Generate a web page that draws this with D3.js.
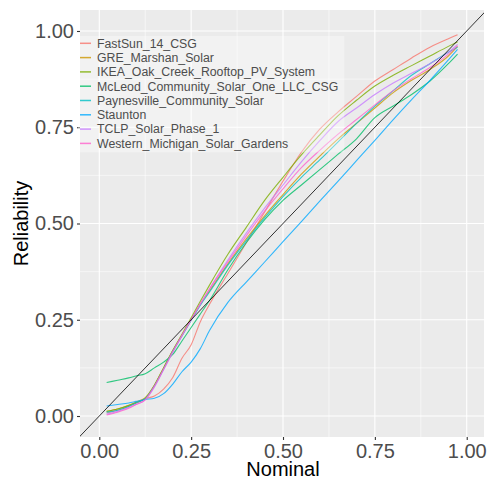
<!DOCTYPE html>
<html>
<head>
<meta charset="utf-8">
<script src="https://cdn.jsdelivr.net/npm/d3@7"></script>
<style>
  html, body { margin: 0; padding: 0; background: #ffffff; }
  svg { display: block; font-family: "Liberation Sans", Arial, sans-serif; }
</style>
</head>
<body>
<svg id="chart" width="488" height="481"></svg>
<script>
// Nominal levels shared by every series
const nominal = [0.02, 0.05, 0.08, 0.10, 0.125, 0.15, 0.175, 0.20, 0.225, 0.25, 0.275, 0.30,
                 0.35, 0.40, 0.45, 0.50, 0.55, 0.60, 0.65, 0.70, 0.75, 0.80, 0.85, 0.90, 0.95, 0.975];

const seriesNames = ["FastSun_14_CSG", "GRE_Marshan_Solar", "IKEA_Oak_Creek_Rooftop_PV_System",
  "McLeod_Community_Solar_One_LLC_CSG", "Paynesville_Community_Solar", "Staunton",
  "TCLP_Solar_Phase_1", "Western_Michigan_Solar_Gardens"];

const seriesColors = ["#F8766D", "#CD9600", "#7CAE00", "#00BE67", "#00BFC4", "#00A9FF", "#C77CFF", "#FF61CC"];

// Reliability (observed coverage) per series at each nominal level
const fastSun    = [0.008, 0.015, 0.025, 0.033, 0.045, 0.052, 0.070, 0.100, 0.150, 0.185, 0.245, 0.290,
                    0.370, 0.450, 0.530, 0.610, 0.685, 0.745, 0.790, 0.830, 0.870, 0.900, 0.930, 0.958, 0.980, 0.990];
const greMarshan = [0.012, 0.018, 0.028, 0.036, 0.048, 0.080, 0.125, 0.170, 0.210, 0.250, 0.290, 0.325,
                    0.395, 0.460, 0.520, 0.575, 0.628, 0.675, 0.720, 0.760, 0.800, 0.840, 0.872, 0.900, 0.935, 0.960];
const ikeaOak    = [0.012, 0.018, 0.027, 0.035, 0.045, 0.080, 0.125, 0.170, 0.212, 0.255, 0.298, 0.340,
                    0.420, 0.490, 0.560, 0.620, 0.678, 0.730, 0.780, 0.820, 0.857, 0.885, 0.910, 0.935, 0.960, 0.972];
const mcLeod     = [0.087, 0.093, 0.099, 0.104, 0.110, 0.125, 0.140, 0.160, 0.195, 0.230, 0.265, 0.300,
                    0.380, 0.450, 0.510, 0.560, 0.600, 0.640, 0.680, 0.720, 0.775, 0.805, 0.835, 0.870, 0.915, 0.940];
const paynes     = [0.010, 0.015, 0.025, 0.034, 0.045, 0.078, 0.122, 0.168, 0.208, 0.248, 0.288, 0.322,
                    0.392, 0.455, 0.515, 0.570, 0.620, 0.665, 0.712, 0.760, 0.805, 0.845, 0.885, 0.915, 0.945, 0.958];
const staunton   = [0.026, 0.030, 0.034, 0.038, 0.043, 0.046, 0.058, 0.083, 0.115, 0.140, 0.175, 0.222,
                    0.295, 0.348, 0.400, 0.453, 0.505, 0.558, 0.610, 0.663, 0.716, 0.770, 0.822, 0.872, 0.925, 0.952];
const tclp       = [0.005, 0.012, 0.022, 0.030, 0.042, 0.075, 0.120, 0.165, 0.208, 0.250, 0.290, 0.330,
                    0.405, 0.475, 0.540, 0.600, 0.660, 0.715, 0.765, 0.800, 0.835, 0.865, 0.890, 0.915, 0.945, 0.965];
const westernMi  = [0.003, 0.010, 0.020, 0.030, 0.042, 0.078, 0.122, 0.168, 0.210, 0.250, 0.292, 0.330,
                    0.400, 0.468, 0.532, 0.590, 0.645, 0.690, 0.732, 0.770, 0.808, 0.845, 0.876, 0.905, 0.940, 0.962];

const seriesValues = [fastSun, greMarshan, ikeaOak, mcLeod, paynes, staunton, tclp, westernMi];

const xMajor = [0, 0.25, 0.5, 0.75, 1];
const yMajor = [0, 0.25, 0.5, 0.75, 1];
const minorBreaks = [0.125, 0.375, 0.625, 0.875];
const tickLabels = ["0.00", "0.25", "0.50", "0.75", "1.00"];

const svg = d3.select("#chart");
const panel = { left: 80, right: 484, top: 10, bottom: 437 };

const x = d3.scaleLinear().domain([-0.0525, 1.047]).range([panel.left, panel.right]);
const y = d3.scaleLinear().domain([-0.0545, 1.0545]).range([panel.bottom, panel.top]);

// Panel background
svg.append("rect")
  .attr("x", panel.left).attr("y", panel.top)
  .attr("width", panel.right - panel.left).attr("height", panel.bottom - panel.top)
  .attr("fill", "#EBEBEB");

svg.append("clipPath").attr("id", "panel-clip")
  .append("rect")
  .attr("x", panel.left).attr("y", panel.top)
  .attr("width", panel.right - panel.left).attr("height", panel.bottom - panel.top);

// Grid lines
const grid = svg.append("g");
minorBreaks.forEach(v => {
  grid.append("line").attr("x1", x(v)).attr("x2", x(v)).attr("y1", panel.top).attr("y2", panel.bottom)
    .attr("stroke", "#fff").attr("stroke-width", 0.55);
  grid.append("line").attr("y1", y(v)).attr("y2", y(v)).attr("x1", panel.left).attr("x2", panel.right)
    .attr("stroke", "#fff").attr("stroke-width", 0.55);
});
xMajor.forEach(v => {
  grid.append("line").attr("x1", x(v)).attr("x2", x(v)).attr("y1", panel.top).attr("y2", panel.bottom)
    .attr("stroke", "#fff").attr("stroke-width", 1.1);
});
yMajor.forEach(v => {
  grid.append("line").attr("y1", y(v)).attr("y2", y(v)).attr("x1", panel.left).attr("x2", panel.right)
    .attr("stroke", "#fff").attr("stroke-width", 1.1);
});

const plot = svg.append("g").attr("clip-path", "url(#panel-clip)");

// Series curves
const line = d3.line()
  .x(d => x(d[0]))
  .y(d => y(d[1]))
  .curve(d3.curveMonotoneX);

seriesValues.forEach((vals, i) => {
  plot.append("path")
    .datum(nominal.map((n, k) => [n, vals[k]]))
    .attr("d", line)
    .attr("fill", "none")
    .attr("stroke", seriesColors[i])
    .attr("stroke-width", 1.1)
    .attr("stroke-opacity", 0.8);
});

// Perfect-calibration reference line
plot.append("line")
  .attr("x1", x(-0.1)).attr("y1", y(-0.1))
  .attr("x2", x(1.1)).attr("y2", y(1.1))
  .attr("stroke", "#000").attr("stroke-width", 0.8);

// Axes
const xAxis = svg.append("g").attr("transform", `translate(0,${panel.bottom})`)
  .call(d3.axisBottom(x).tickValues(xMajor).tickSize(3).tickPadding(3)
    .tickFormat((d, i) => tickLabels[i]));
const yAxis = svg.append("g").attr("transform", `translate(${panel.left},0)`)
  .call(d3.axisLeft(y).tickValues(yMajor).tickSize(3).tickPadding(3)
    .tickFormat((d, i) => tickLabels[i]));

[xAxis, yAxis].forEach(a => {
  a.select(".domain").remove();
  a.selectAll(".tick line").attr("stroke", "#333333").attr("stroke-width", 1.1);
  a.selectAll(".tick text").attr("fill", "#4D4D4D")
    .style("font-size", "20px").style("font-family", "'Liberation Sans', Arial, sans-serif");
});
xAxis.selectAll(".tick text").attr("dy", "0.71em").attr("y", 7);

// Axis titles
svg.append("text")
  .attr("x", (x(0) + x(1)) / 2).attr("y", 476)
  .attr("text-anchor", "middle")
  .style("font-size", "20px").attr("fill", "#000")
  .text("Nominal");

svg.append("text")
  .attr("transform", `translate(28,${(y(0) + y(1)) / 2}) rotate(-90)`)
  .attr("text-anchor", "middle")
  .style("font-size", "20px").attr("fill", "#000")
  .text("Reliability");

// Legend
const legend = svg.append("g");
const legendBg = legend.append("rect")
  .attr("x", 78).attr("y", 36)
  .attr("fill", "rgba(255,255,255,0.35)");

const rowY = i => 43.3 + i * 14.3;
let maxW = 0;
seriesNames.forEach((name, i) => {
  legend.append("line")
    .attr("x1", 80).attr("x2", 91)
    .attr("y1", rowY(i)).attr("y2", rowY(i))
    .attr("stroke", seriesColors[i]).attr("stroke-width", 1.5).attr("stroke-opacity", 0.8);
  const t = legend.append("text")
    .attr("x", 97).attr("y", rowY(i)).attr("dy", "0.35em")
    .style("font-size", "12.3px").attr("fill", "#4D4D4D")
    .text(name);
  maxW = Math.max(maxW, t.node().getComputedTextLength());
});
legendBg.attr("width", 97 + maxW + 6 - 78).attr("height", rowY(7) + 9 - 36);
</script>
</body>
</html>
